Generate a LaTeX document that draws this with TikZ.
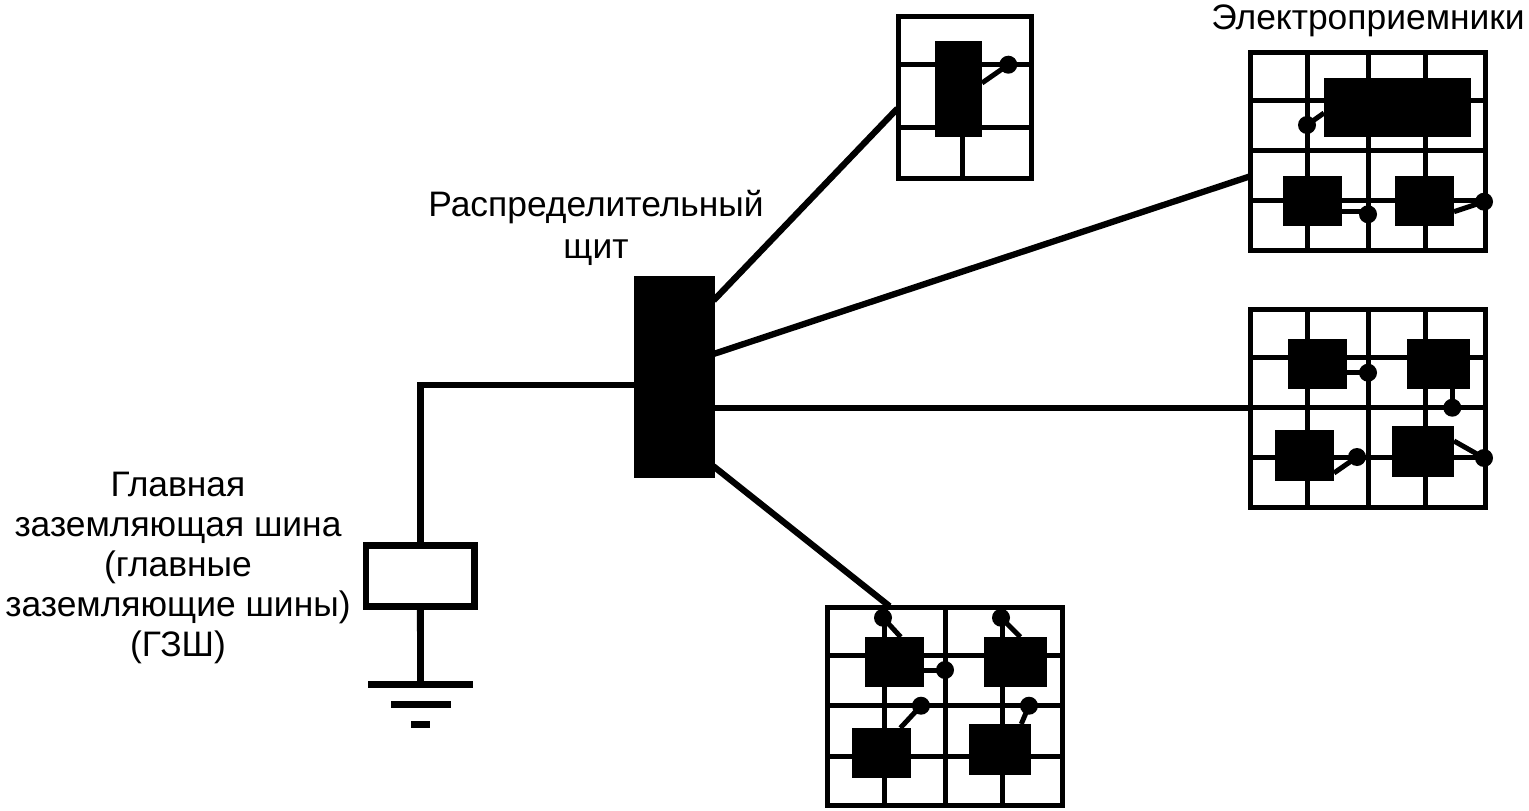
\documentclass[tikz,border=0pt]{standalone}
\usepackage{fontspec}
\setmainfont{Liberation Sans}
\usetikzlibrary{positioning}

\begin{document}
\begin{tikzpicture}[
  x=1pt,y=-1pt,
  panel/.style={draw,rectangle,line width=5pt,inner sep=0pt},
  grid line/.style={line width=5pt},
  block/.style={fill=black,rectangle,inner sep=0pt,outer sep=0pt},
  dot/.style={fill=black,circle,inner sep=0pt,outer sep=0pt,minimum size=18pt},
  bar/.style={fill=black,rectangle,inner sep=0pt,outer sep=0pt,minimum height=7pt},
  lead/.style={line width=5pt},
  feeder/.style={line width=6.3pt,shorten <=-2pt,shorten >=-2pt},
  lbl/.style={align=center,inner sep=0pt,font=\fontsize{35.4}{40}\selectfont}
]
  \useasboundingbox (0,0) rectangle (1529,811);

  % Panels
  \node[panel,minimum width=133pt,minimum height=162pt] (paneld) at (965,97) {};
  \node[panel,minimum width=235pt,minimum height=198pt] (panela) at (1368,151.5) {};
  \node[panel,minimum width=235pt,minimum height=198pt] (panelb) at (1368,408.4) {};
  \node[panel,minimum width=235pt,minimum height=198pt] (panelc) at (945,706.5) {};

  % Grid lines
  \draw[grid line] (962,127) -- (962,178);
  \foreach \gy in {64.7,127.3}
    \draw[grid line] (898.5,\gy) -- (1031.5,\gy);
  \foreach \gx in {1307,1368,1425} {
    \draw[grid line] (\gx,52.5) -- (\gx,250.5);
    \draw[grid line] (\gx,309.5) -- (\gx,507.5);
  }
  \foreach \gy in {100.5,150.7,200.3}
    \draw[grid line] (1250.5,\gy) -- (1485.5,\gy);
  \foreach \gy in {357.7,407.7,457.7}
    \draw[grid line] (1250.5,\gy) -- (1485.5,\gy);
  \foreach \gx in {884,945,1002.7}
    \draw[grid line] (\gx,607.5) -- (\gx,805.5);
  \foreach \gy in {655.7,705.7,756}
    \draw[grid line] (827.5,\gy) -- (1062.5,\gy);

  % Blocks
  \node[block,minimum width=47pt,minimum height=96pt] (blockd) at (958.5,88.7) {};
  \node[block,minimum width=147pt,minimum height=58.8pt] (blocka1) at (1397.5,107.4) {};
  \node[block,minimum width=59pt,minimum height=49.7pt] (blocka2) at (1312.5,200.85) {};
  \node[block,minimum width=59pt,minimum height=49.7pt] (blocka3) at (1424.5,200.85) {};
  \node[block,minimum width=59pt,minimum height=49.7pt] (blockb1) at (1317.5,363.85) {};
  \node[block,minimum width=63pt,minimum height=49.7pt] (blockb2) at (1438.5,363.85) {};
  \node[block,minimum width=59pt,minimum height=50.7pt] (blockb3) at (1304.5,455.35) {};
  \node[block,minimum width=62pt,minimum height=51pt] (blockb4) at (1423,451.5) {};
  \node[block,minimum width=59pt,minimum height=49.7pt] (blockc1) at (894.5,661.85) {};
  \node[block,minimum width=63pt,minimum height=49.7pt] (blockc2) at (1015.5,661.85) {};
  \node[block,minimum width=59pt,minimum height=50pt] (blockc3) at (881.5,753) {};
  \node[block,minimum width=62pt,minimum height=50.7pt] (blockc4) at (1000,749.35) {};

  % Dots
  \node[dot] (dotd) at (1008.3,64.7) {};
  \node[dot] (dota1) at (1307,125) {};
  \node[dot] (dota2) at (1368,214.3) {};
  \node[dot] (dota3) at (1484,201.7) {};
  \node[dot] (dotb1) at (1368,372.7) {};
  \node[dot] (dotb2) at (1452.3,407.7) {};
  \node[dot] (dotb3) at (1357,457) {};
  \node[dot] (dotb4) at (1484,458) {};
  \node[dot] (dotc1) at (883,617.7) {};
  \node[dot] (dotc2) at (1001,617.7) {};
  \node[dot] (dotc3) at (945,670) {};
  \node[dot] (dotc4) at (921,705.7) {};
  \node[dot] (dotc5) at (1029,705.7) {};

  % Lead ends
  \coordinate (enda2) at (1342,211.7);
  \coordinate (enda3) at (1454,211.7);
  \coordinate (endb1) at (1347,372.5);
  \coordinate (endb3) at (1334,473);
  \coordinate (endb4) at (1454,441);
  \coordinate (endc1) at (924,670);
  \coordinate (enda1) at (1324,113);
  \coordinate (endd) at (982,83);

  % Leads
  \draw[lead] (dotd.center) -- (blockd.east |- endd);
  \draw[lead] (dota1.center) -- (blocka1.west |- enda1);
  \draw[lead] (dota2.center |- enda2) -- (blocka2.east |- enda2);
  \draw[lead] (dota3.center) -- (blocka3.east |- enda3);
  \draw[lead] (dotb1.center |- endb1) -- (blockb1.east |- endb1);
  \draw[lead] (dotb2.center) -- (dotb2.center |- blockb2.south);
  \draw[lead] (dotb3.center) -- (blockb3.east |- endb3);
  \draw[lead] (dotb4.center) -- (blockb4.east |- endb4);
  \draw[lead] (dotc1.center) -- (blockc1.76);
  \draw[lead] (dotc2.center) -- (blockc2.79.7);
  \draw[lead] (dotc3.center) -- (blockc1.east |- endc1);
  \draw[lead] (dotc4.center) -- (blockc3.53.5);
  \draw[lead] (dotc5.center) -- (blockc4.50.8);

  % Switchboard and earthing bar
  \node[block,minimum width=81pt,minimum height=202pt] (switch) at (674.5,377) {};
  \node[panel,line width=6.7pt,minimum width=108.7pt,minimum height=61.4pt] (gzsh) at (420.35,576) {};
  \node[bar,minimum width=105pt] (gnda) at (420.5,684.5) {};
  \node[bar,minimum width=60pt] (gndb) at (421,704.7) {};
  \node[bar,minimum width=19pt] (gndc) at (420.5,724.7) {};

  % Feeder ends
  \coordinate (tapd) at (715,299);
  \coordinate (tapa) at (715,353.5);
  \coordinate (tapb) at (715,407.8);
  \coordinate (tapc) at (715,467.5);
  \coordinate (tapg) at (634,385);
  \coordinate (hitd) at (896,110);
  \coordinate (hita) at (1248,177);
  \coordinate (hitc) at (888,605);

  % Feeders
  \draw[feeder] (switch.east |- tapd) -- (paneld.west |- hitd);
  \draw[feeder] (switch.east |- tapa) -- (panela.west |- hita);
  \draw[feeder,line width=5.7pt] (switch.east |- tapb) -- (panelb.west |- tapb);
  \draw[feeder] (switch.east |- tapc) -- (panelc.north -| hitc);
  \draw[feeder,line width=6.8pt] (switch.west |- tapg) -| (gzsh.north);
  \draw[feeder,line width=6.8pt] (gzsh.south) -- (gnda.north);

  % Labels
  \node[lbl] (lblpanels) at (1368,21) {Электроприемники};
  \node[lbl] (lblswitch) at (596,228) {Распределительный\\[2pt]щит};
  \node[lbl] (lblgzsh) at (178,568) {Главная\\заземляющая шина\\(главные\\заземляющие шины)\\(ГЗШ)};
\end{tikzpicture}
\end{document}
